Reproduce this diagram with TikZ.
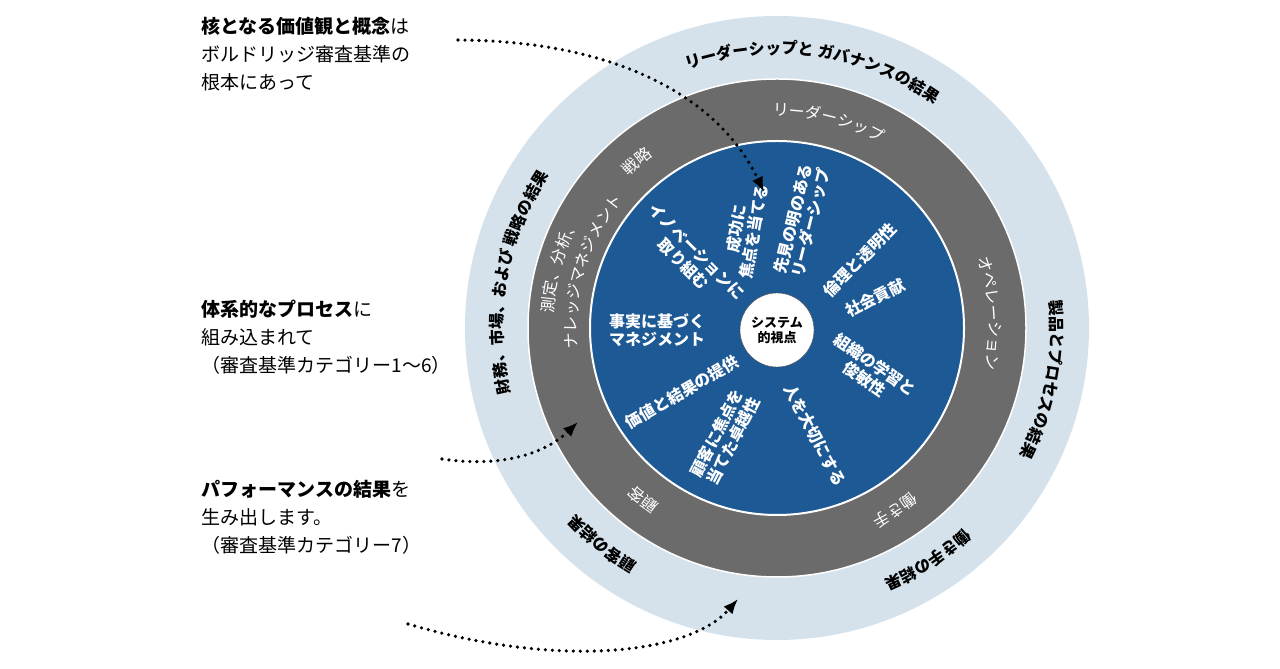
\documentclass[tikz,border=0pt]{standalone}
\usepackage{fontspec}
\setmainfont{Noto Sans CJK JP}
\usetikzlibrary{decorations.text,arrows.meta}

\definecolor{ringlight}{HTML}{D5E2EB}
\definecolor{ringgray}{HTML}{6B6B6B}
\definecolor{coreblue}{HTML}{1D5A95}

\tikzset{
  value/.style={text=white,font=\bfseries\fontsize{16}{18}\selectfont,align=center},
  note/.style={anchor=north west,align=left,font=\fontsize{19}{28}\selectfont},
  dots/.style={line width=3.6pt,dash pattern=on 0pt off 7pt,line cap=round,-{Latex[length=15pt,width=12pt]}}
}
\newcommand{\outerfont}{\bfseries\fontsize{16}{16}\selectfont}
\newcommand{\grayfont}{\color{white}\fontsize{16}{16}\selectfont}

\begin{document}
\begin{tikzpicture}[x=1pt,y=1pt]
  \useasboundingbox (0,0) rectangle (1280,669);

  \coordinate (c) at (777,341);

  % rings
  \fill [ringlight] (c) circle (312);
  \fill [ringgray,draw=white,line width=1.5pt] (c) circle (249);
  \fill [coreblue,draw=white,line width=2pt] (c) circle (187);
  \node (core) at (777,339) [shape=circle,draw=black!70,fill=white,minimum size=74pt,inner sep=0pt,
    font=\bfseries\fontsize{13}{15}\selectfont,align=center] {システム\\的視点};

  % outer results
  \path [decorate,decoration={text along path,text align=center,
    text={|\outerfont|リーダーシップと ガバナンスの結果}}] (c) ++(111:274) arc (111:53:274);
  \path [decorate,decoration={text along path,text align=center,
    text={|\outerfont|製品とプロセスの結果}}] (c) ++(15:274) arc (15:-37:274);
  \path [decorate,decoration={text along path,text align=center,
    text={|\outerfont|働き手の結果}}] (c) ++(-44:274) arc (-44:-70:274);
  \path [decorate,decoration={text along path,text align=center,
    text={|\outerfont|顧客の結果}}] (c) ++(-117:274) arc (-117:-141:274);
  \path [decorate,decoration={text along path,text align=center,
    text={|\outerfont|財務、市場、および 戦略の結果}}] (c) ++(200:274) arc (200:140:274);

  % categories
  \path [decorate,decoration={text along path,text align=center,
    text={|\grayfont|リーダーシップ}}] (c) ++(90:212) arc (90:62:212);
  \path [decorate,decoration={text along path,text align=center,
    text={|\grayfont|戦略}}] (c) ++(136:212) arc (136:124:212);
  \path [decorate,decoration={text along path,text align=center,
    text={|\grayfont|オペレーション}}] (c) ++(20:212) arc (20:-12:212);
  \path [decorate,decoration={text along path,text align=center,
    text={|\grayfont|働き手}}] (c) ++(-49:212) arc (-49:-65:212);
  \path [decorate,decoration={text along path,text align=center,
    text={|\grayfont|顧客}}] (c) ++(-122:212) arc (-122:-134:212);
  \path [decorate,decoration={text along path,text align=center,
    text={|\grayfont|測定、分析、}}] (c) ++(180:224) arc (180:148:224);
  \path [decorate,decoration={text along path,text align=center,
    text={|\grayfont|ナレッジマネジメント}}] (c) ++(188:200) arc (188:138:200);

  % core values
  \node (success)  at (745,439) [value,rotate=80] {成功に\\焦点を当てる};
  \node (vision)   at (802,448) [value,rotate=76] {先見の明のある\\リーダーシップ};
  \node (ethics)   at (860,409) [value,rotate=45] {倫理と透明性};
  \node (society)  at (875,371) [value,rotate=27] {社会貢献};
  \node (learning) at (870,297) [value,rotate=-35] {組織の学習と\\俊敏性};
  \node (people)   at (815,234) [value,rotate=-62] {人を大切にする};
  \node (customer) at (725,232) [value,rotate=63] {顧客に焦点を\\当てた卓越性};
  \node (delivery) at (682,277) [value,rotate=30] {価値と結果の提供};
  \node (facts)    at (657,339) [value] {事実に基づく\\マネジメント};
  \node (innov)    at (690,411) [value,rotate=-45] {イノベーションに\\取り組む};

  % notes
  \node (core-note) at (198,655) [note] {\textbf{核となる価値観と概念}は\\ボルドリッジ審査基準の\\根本にあって};
  \node (proc-note) at (198,372) [note] {\textbf{体系的なプロセス}に\\組み込まれて\\（審査基準カテゴリー1～6）};
  \node (perf-note) at (198,192) [note] {\textbf{パフォーマンスの結果}を\\生み出します。\\（審査基準カテゴリー7）};

  \coordinate (s1) at (458,629);
  \coordinate (t1) at (764,477);
  \coordinate (s2) at (442,210);
  \coordinate (t2) at (578,247);
  \coordinate (s3) at (408,45);
  \coordinate (t3) at (738,70);

  \draw [dots] (s1) .. controls (620,628) and (720,570) .. (t1);
  \draw [dots] (s2) .. controls (510,200) and (550,220) .. (t2);
  \draw [dots] (s3) .. controls (560,0) and (690,15) .. (t3);

\end{tikzpicture}
\end{document}
